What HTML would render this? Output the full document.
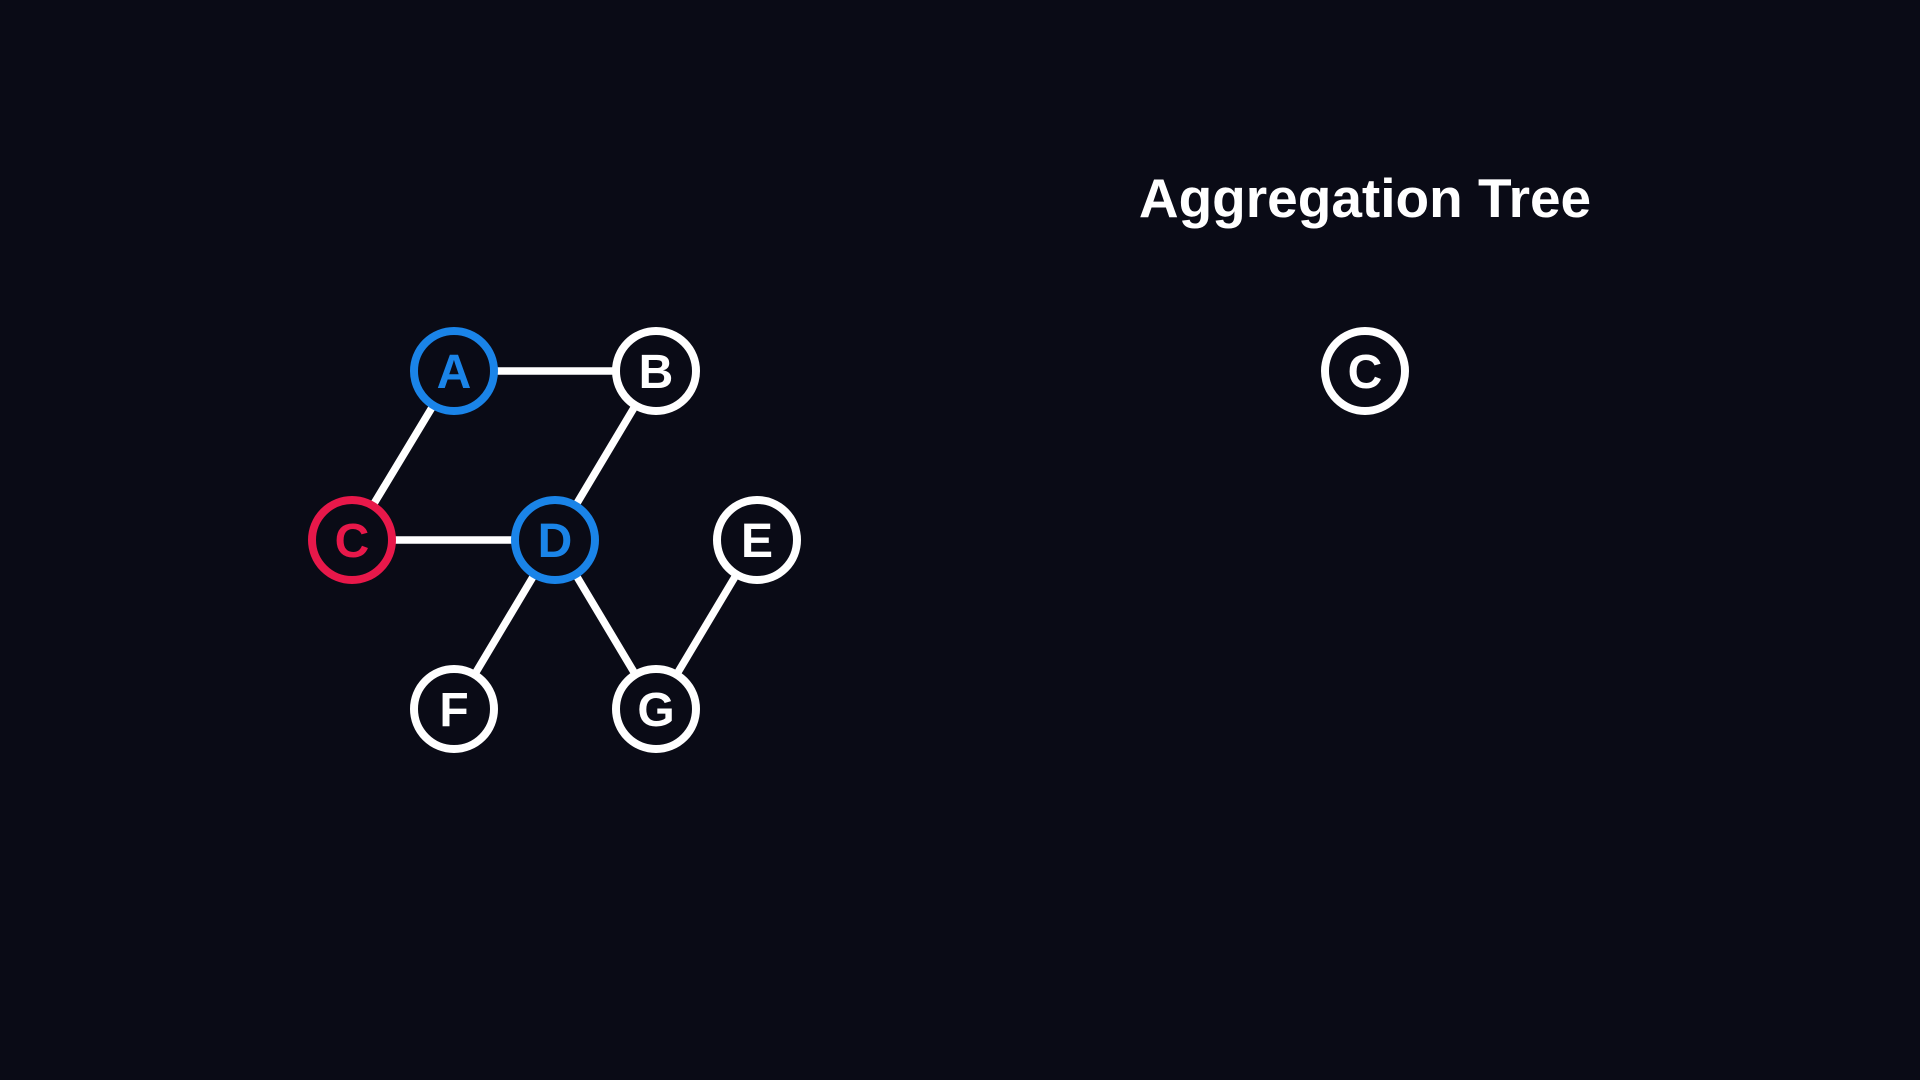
<!DOCTYPE html>
<html><head><meta charset="utf-8"><style>
html,body{margin:0;padding:0;background:#0a0b16;width:1920px;height:1080px;overflow:hidden}
svg{display:block}
text{font-family:"Liberation Sans",sans-serif;font-weight:bold}
</style></head><body>
<svg id="chart" width="1920" height="1080" viewBox="0 0 1920 1080">
<text x="1365" y="217" text-anchor="middle" font-size="55" fill="#ffffff">Aggregation Tree</text>
<g id="edges"></g>
<g id="nodes"></g>
</svg>
<script>
const nodeNames = ['A','B','C','D','E','F','G','C'];
const nodeX = [454,656,352,555,757,454,656,1365];
const nodeY = [371,371,540,540,540,709,709,371];
const nodeState = ['visited','none','current','visited','none','none','none','none'];
const edgeFrom = [0,0,1,2,3,3,4];
const edgeTo = [1,2,3,3,5,6,6];
const colors = {visited:'#1a84e8', current:'#e8184a', none:'#ffffff'};
const NS='http://www.w3.org/2000/svg';
const eg=document.getElementById('edges'), ng=document.getElementById('nodes');
for(let i=0;i<edgeFrom.length;i++){
  const a=edgeFrom[i], b=edgeTo[i];
  const l=document.createElementNS(NS,'line');
  l.setAttribute('x1',nodeX[a]);l.setAttribute('y1',nodeY[a]);
  l.setAttribute('x2',nodeX[b]);l.setAttribute('y2',nodeY[b]);
  l.setAttribute('stroke','#ffffff');l.setAttribute('stroke-width','7.5');
  
  
  eg.appendChild(l);
}
for(let i=0;i<nodeNames.length;i++){
  const g=document.createElementNS(NS,'g');
  
  
  const col=colors[nodeState[i]];
  const c=document.createElementNS(NS,'circle');
  c.setAttribute('cx',nodeX[i]);c.setAttribute('cy',nodeY[i]);c.setAttribute('r','40');
  c.setAttribute('fill','#0a0b16');c.setAttribute('stroke',col);c.setAttribute('stroke-width','8');
  const t=document.createElementNS(NS,'text');
  t.setAttribute('x',nodeX[i]);t.setAttribute('y',nodeY[i]+17);
  t.setAttribute('text-anchor','middle');t.setAttribute('font-size','48');t.setAttribute('fill',col);
  t.textContent=nodeNames[i];
  g.appendChild(c);g.appendChild(t);ng.appendChild(g);
}
</script>
</body></html>
